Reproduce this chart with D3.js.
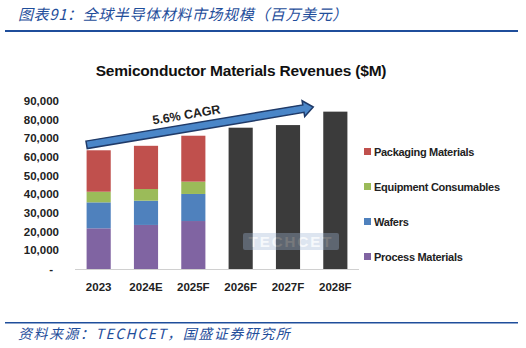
<!DOCTYPE html>
<html lang="zh">
<head>
<meta charset="utf-8">
<script src="https://cdn.jsdelivr.net/npm/d3@7"></script>
<style>
  body { margin: 0; background: #fff; }
  svg { display: block; }
</style>
</head>
<body>
<script>
// data
var years = ["2023", "2024E", "2025F", "2026F", "2027F", "2028F"];
var segYears = ["2023", "2024E", "2025F"];
var processMat = [21800, 23600, 25700];
var wafers = [13900, 13000, 14500];
var equipment = [5700, 6250, 6600];
var packaging = [22200, 23150, 24600];
var totals = [75700, 77100, 84300]; // 2026F-2028F, no breakdown
var totalYears = ["2026F", "2027F", "2028F"];
var yTicks = [0, 10000, 20000, 30000, 40000, 50000, 60000, 70000, 80000, 90000];
var seriesNames = ["Process Materials", "Wafers", "Equipment Consumables", "Packaging Materials"];
var seriesColors = ["#8064a2", "#4f81bd", "#9bbb59", "#c0504d"];

var W = 526, H = 348;
var svg = d3.select("body").append("svg").attr("width", W).attr("height", H);

var blue = "#1f4e9b";
var cn = "'Noto Sans CJK SC', sans-serif";
var lat = "'Liberation Sans', Arial, sans-serif";

// header
svg.append("text").attr("x", 18).attr("y", 20)
  .attr("font-family", cn).attr("font-size", 15).attr("font-style", "italic")
  .attr("letter-spacing", 0.6)
  .attr("fill", blue).text("图表91：全球半导体材料市场规模（百万美元）");
svg.append("rect").attr("x", 5).attr("y", 30).attr("width", 513).attr("height", 2).attr("fill", "#1f4e9b");

// footer
svg.append("rect").attr("x", 5).attr("y", 322).attr("width", 513).attr("height", 1.5).attr("fill", "#1f4e9b");
svg.append("text").attr("x", 18).attr("y", 339)
  .attr("font-family", cn).attr("font-size", 14).attr("font-style", "italic")
  .attr("letter-spacing", 1.5)
  .attr("fill", blue).text("资料来源：TECHCET，国盛证券研究所");

// chart title
svg.append("text").attr("x", 241).attr("y", 76).attr("text-anchor", "middle")
  .attr("font-family", lat).attr("font-weight", "bold").attr("font-size", 15.5)
  .attr("letter-spacing", -0.2)
  .attr("fill", "#111").text("Semiconductor Materials Revenues ($M)");

var x = d3.scaleBand().domain(years).range([75, 359]).paddingInner(0.49).paddingOuter(0.245);
var y = d3.scaleLinear().domain([0, 90000]).range([269, 101]);

// y labels
svg.append("g").selectAll("text").data(yTicks).enter().append("text")
  .attr("x", function(d) { return d === 0 ? 53 : 59; })
  .attr("y", function(d) { return y(d) + 4; })
  .attr("text-anchor", "end")
  .attr("font-family", lat).attr("font-weight", "bold").attr("font-size", 11.5).attr("fill", "#222")
  .text(function(d) { return d === 0 ? "-" : d3.format(",")(d); });

// stacked bars
var table = segYears.map(function(yr, i) {
  return { year: yr, p: processMat[i], w: wafers[i], e: equipment[i], k: packaging[i] };
});
var stack = d3.stack().keys(["p", "w", "e", "k"])(table);
svg.append("g").selectAll("g").data(stack).enter().append("g")
  .attr("fill", function(d, i) { return seriesColors[i]; })
  .selectAll("rect").data(function(d) { return d; }).enter().append("rect")
  .attr("x", function(d) { return x(d.data.year); })
  .attr("width", x.bandwidth())
  .attr("y", function(d) { return y(d[1]); })
  .attr("height", function(d) { return y(d[0]) - y(d[1]); });

svg.append("g").selectAll("rect").data(totals).enter().append("rect")
  .attr("x", function(d, i) { return x(totalYears[i]); })
  .attr("width", x.bandwidth())
  .attr("y", function(d) { return y(d); })
  .attr("height", function(d) { return y(0) - y(d); })
  .attr("fill", "#3b3b3b");

// axis line
svg.append("line").attr("x1", 75).attr("x2", 359).attr("y1", y(0) + 0.5).attr("y2", y(0) + 0.5)
  .attr("stroke", "#d0d0d0").attr("stroke-width", 1);

// x labels
svg.append("g").selectAll("text").data(years).enter().append("text")
  .attr("x", function(d) { return x(d) + x.bandwidth() / 2; })
  .attr("y", 291).attr("text-anchor", "middle")
  .attr("font-family", lat).attr("font-weight", "bold").attr("font-size", 11.5).attr("fill", "#222")
  .text(function(d) { return d; });

// watermark
var wm = svg.append("g").attr("opacity", 0.35);
wm.append("rect").attr("x", 243).attr("y", 233).attr("width", 96).attr("height", 17).attr("rx", 2).attr("fill", "#9fb7d6");
wm.append("text").attr("x", 291).attr("y", 247).attr("text-anchor", "middle")
  .attr("font-family", lat).attr("font-weight", "bold").attr("font-size", 15).attr("letter-spacing", 2)
  .attr("fill", "#e8eef6").text("TECHCET");

// CAGR arrow
var x0 = x("2023"), y0 = y(66500), x1 = x("2028F") - 10, y1 = y(86800);
var len = Math.hypot(x1 - x0, y1 - y0);
var ang = Math.atan2(y1 - y0, x1 - x0) * 180 / Math.PI;
var sw = 3.8, hw = 8, hl = 10;
var arrow = svg.append("g").attr("transform", "translate(" + x0 + "," + y0 + ") rotate(" + ang + ")");
arrow.append("path")
  .attr("d", "M0," + (-sw) + "L" + (len - hl) + "," + (-sw) + "L" + (len - hl) + "," + (-hw) +
    "L" + len + ",0L" + (len - hl) + "," + hw + "L" + (len - hl) + "," + sw + "L0," + sw + "Z")
  .attr("fill", "#4a86c8").attr("stroke", "#1f3a68").attr("stroke-width", 1.5).attr("stroke-linejoin", "miter");
arrow.append("text").attr("x", len * 0.45).attr("y", -9).attr("text-anchor", "middle")
  .attr("font-family", lat).attr("font-weight", "bold").attr("font-size", 12.5).attr("fill", "#222")
  .text("5.6% CAGR");

// legend
var legY = [257, 222, 187, 152];
var leg = svg.append("g").selectAll("g").data(seriesNames).enter().append("g")
  .attr("transform", function(d, i) { return "translate(364," + legY[i] + ")"; });
leg.append("rect").attr("x", 0).attr("y", -4).attr("width", 7).attr("height", 7)
  .attr("fill", function(d, i) { return seriesColors[i]; });
leg.append("text").attr("x", 10).attr("y", 4)
  .attr("font-family", lat).attr("font-weight", "bold").attr("font-size", 11).attr("fill", "#222")
  .attr("letter-spacing", -0.3)
  .text(function(d) { return d; });
</script>
</body>
</html>
